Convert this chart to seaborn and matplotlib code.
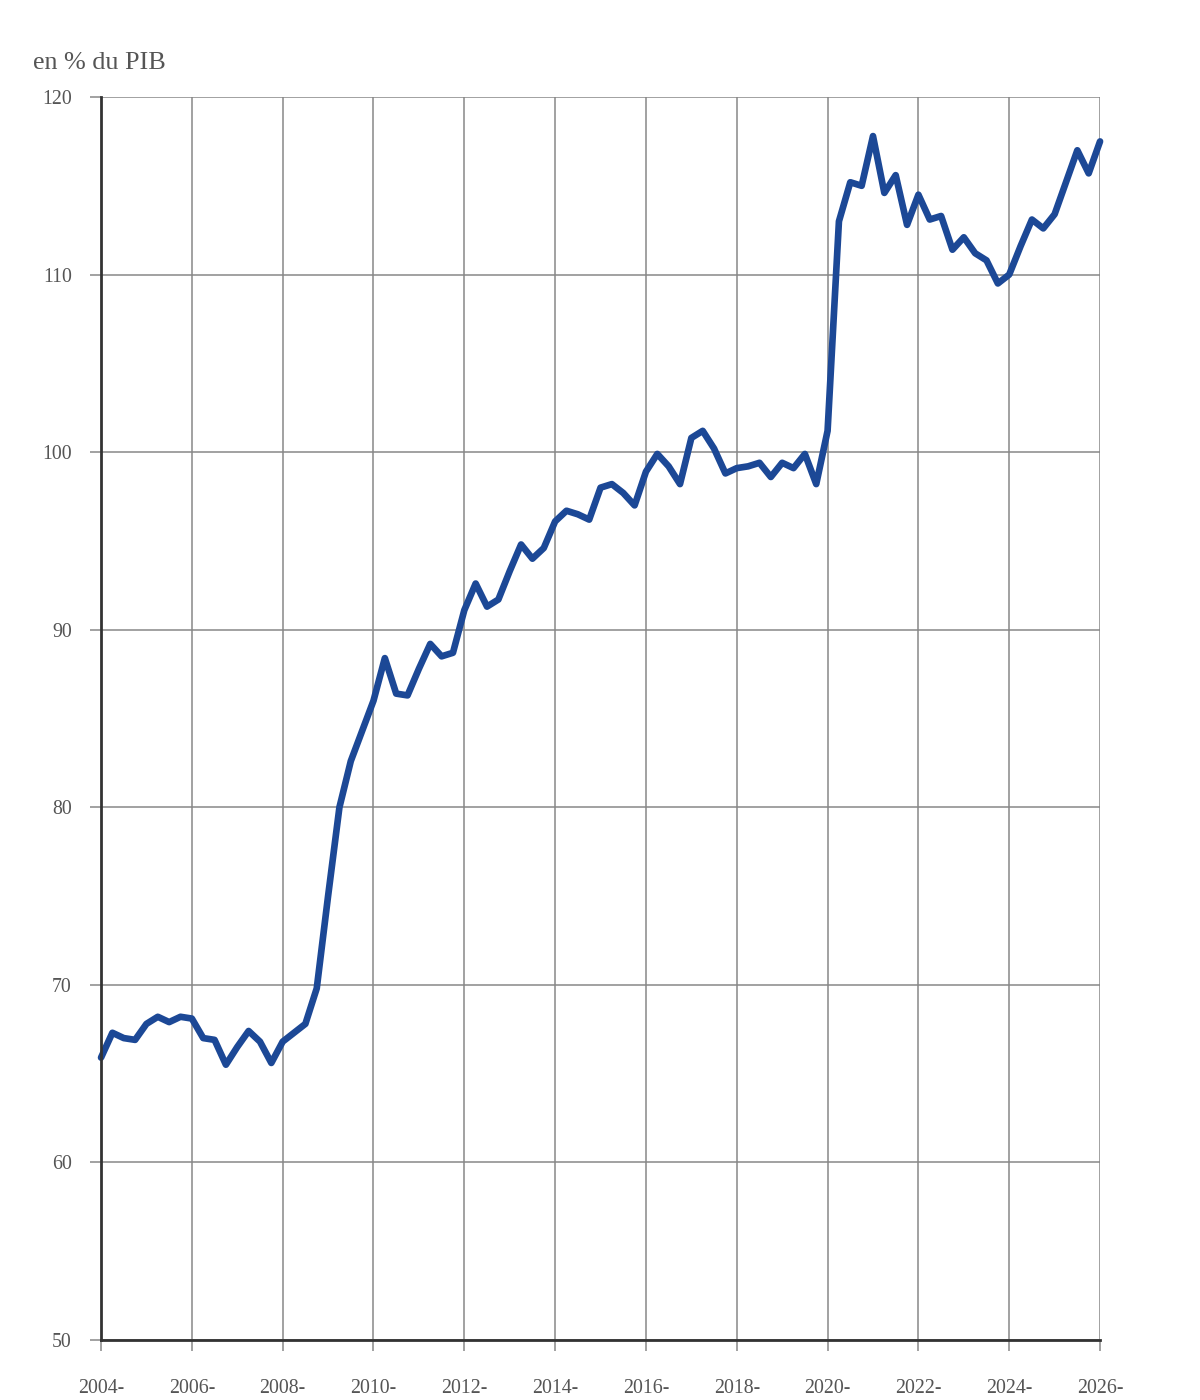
import numpy as np
import pandas as pd
import matplotlib
matplotlib.use("Agg")
import matplotlib.pyplot as plt
import seaborn as sns

# trimestres 2004T1 -> 2026T1
quarters = pd.period_range("2004Q1", "2026Q1", freq="Q")
debt = [65.9, 67.3, 67.0, 66.9, 67.8, 68.2, 67.9, 68.2,
        68.1, 67.0, 66.9, 65.5, 66.5, 67.4, 66.8, 65.6,
        66.8, 67.3, 67.8, 69.8, 75.0, 80.0, 82.6, 84.3,
        86.0, 88.4, 86.4, 86.3, 87.8, 89.2, 88.5, 88.7,
        91.1, 92.6, 91.3, 91.7, 93.3, 94.8, 94.0, 94.6,
        96.1, 96.7, 96.5, 96.2, 98.0, 98.2, 97.7, 97.0,
        98.9, 99.9, 99.2, 98.2, 100.8, 101.2, 100.2, 98.8,
        99.1, 99.2, 99.4, 98.6, 99.4, 99.1, 99.9, 98.2,
        101.2, 113.0, 115.2, 115.0, 117.8, 114.6, 115.6, 112.8,
        114.5, 113.1, 113.3, 111.4, 112.1, 111.2, 110.8, 109.5,
        110.0, 111.6, 113.1, 112.6, 113.4, 115.2, 117.0, 115.7,
        117.5]
year_ticks = list(range(2004, 2027, 2))
y_ticks = [50, 60, 70, 80, 90, 100, 110, 120]

df = pd.DataFrame({"t": quarters.year + (quarters.quarter - 1) / 4, "debt": debt})

sns.set_style("white")
plt.rcParams["font.family"] = ["Liberation Serif", "DejaVu Serif"]

fig = plt.figure(figsize=(12, 14), dpi=100)
ax = fig.add_axes([0.0842, 0.0429, 0.8325, 0.8878])

sns.lineplot(data=df, x="t", y="debt", ax=ax, color="#1c4896",
             linewidth=4.8, clip_on=False, zorder=3)

ax.set_xlim(2004, 2026)
ax.set_ylim(50, 120)
ax.set_xticks(year_ticks)
ax.set_xticklabels([f"{y}-" for y in year_ticks])
ax.set_yticks(y_ticks)
ax.set_xlabel("")
ax.set_ylabel("")

ax.grid(True, color="#878787", linewidth=1.1, zorder=0)
ax.set_axisbelow(True)
ax.tick_params(axis="both", colors="#878787", labelcolor="#555555",
               labelsize=14.3, length=8, width=1.1, direction="out")
ax.tick_params(axis="x", pad=20)
ax.tick_params(axis="y", pad=13)
ax.tick_params(bottom=True, left=True)

for side in ["top", "right"]:
    ax.spines[side].set_visible(False)
for side in ["left", "bottom"]:
    ax.spines[side].set_color("#333333")
    ax.spines[side].set_linewidth(2)
    ax.spines[side].set_zorder(4)

fig.text(0.0275, 0.955, "en % du PIB", fontsize=18.8, color="#555555",
         ha="left", va="center")

fig.savefig("out.png", dpi=100, facecolor="white")
